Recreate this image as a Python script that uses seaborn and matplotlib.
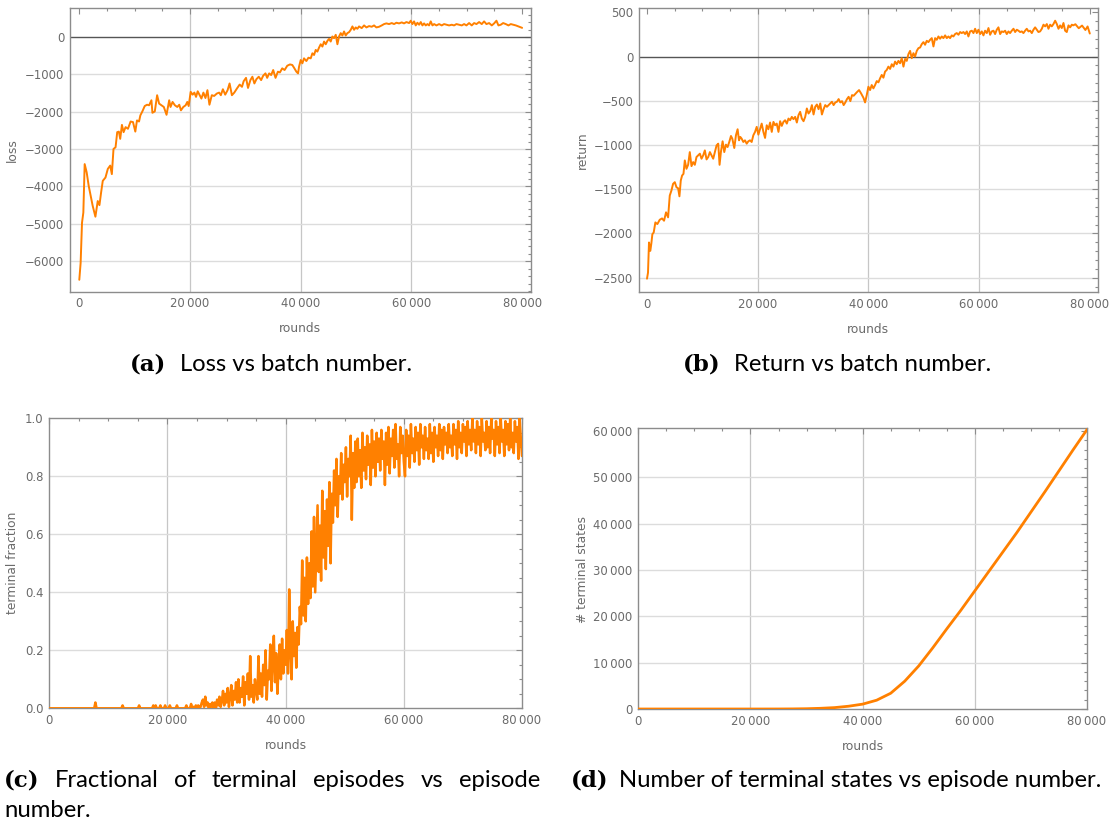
import numpy as np
import matplotlib
matplotlib.use("Agg")
import matplotlib.pyplot as plt
from matplotlib.ticker import MultipleLocator, FuncFormatter
import seaborn as sns

# ---------------- data ----------------
loss_rounds = [0, 240, 490, 730, 970, 1330, 1700, 2120, 2420, 2910, 3330, 3640, 3940, 4240, 4730,
               5150, 5580, 5880, 6180, 6550, 6850, 7150, 7390, 7700, 8000, 8360, 8790, 9270, 9700,
               10120, 10420, 10790, 11030, 11390, 11820, 12240, 12610, 13030, 13210, 13640, 14060,
               14420, 14850, 15270, 15760, 16240, 16480, 16850, 17270, 17700, 18060, 18360, 18790,
               19210, 19510, 19760, 20120, 20480, 20790, 21090, 21390, 21700, 22060, 22420, 22790,
               23150, 23510, 23940, 24360, 24850, 25270, 25570, 25940, 26360, 26790, 27150, 27570,
               28000, 28480, 28970, 29390, 29690, 30120, 30480, 30910, 31270, 31630, 32000, 32420,
               32850, 33210, 33630, 33940, 34300, 34660, 35030, 35450, 35880, 36240, 36660, 37090,
               37570, 38060, 38480, 38800, 39220, 39520, 39700, 40000, 40300, 40600, 41020, 41390,
               41810, 42110, 42410, 42710, 43010, 43310, 43610, 43920, 44220, 44520, 44820, 45120,
               45420, 45720, 46020, 46330, 46630, 46930, 47230, 47530, 47830, 48130, 48430, 48740,
               49040, 49340, 49640, 49940, 50240, 50540, 51020, 51450, 51870, 52350, 52830, 53250,
               53670, 54160, 54640, 55060, 55480, 55960, 56450, 56870, 57290, 57770, 58250, 58670,
               59100, 59580, 59880, 60180, 60480, 60780, 61080, 61390, 61690, 61990, 62290, 62590,
               62890, 63190, 63490, 63800, 64100, 64520, 65000, 65480, 65900, 66330, 66810, 67290,
               67710, 68130, 68610, 69100, 69520, 69940, 70420, 70900, 71330, 71750, 72230, 72710,
               73130, 73550, 74040, 74520, 74940, 75360, 75720, 76140, 76570, 77050, 77530, 77950,
               78370, 78860, 80000]
loss_values = [-6500, -6050, -4970, -4700, -3400, -3620, -3985, -4300, -4520, -4810, -4390, -4500,
               -4160, -3850, -3760, -3530, -3440, -3670, -2995, -2950, -2545, -2530, -2725, -2350,
               -2545, -2410, -2455, -2260, -2275, -2530, -2230, -2260, -2095, -1990, -1845, -1810,
               -1825, -1690, -2025, -1990, -1555, -1780, -1825, -1870, -2080, -1690, -1870, -1735,
               -1825, -1870, -1810, -1960, -1870, -1825, -1735, -1845, -1465, -1540, -1485, -1600,
               -1450, -1540, -1645, -1485, -1630, -1420, -1810, -1555, -1575, -1510, -1485, -1555,
               -1395, -1540, -1420, -1240, -1555, -1485, -1375, -1270, -1330, -1180, -1090, -1360,
               -1150, -1060, -1240, -1125, -1060, -1150, -1035, -970, -1090, -970, -1015, -880,
               -1090, -925, -945, -835, -880, -765, -730, -745, -820, -925, -970, -790, -612, -700,
               -567, -640, -550, -567, -432, -477, -342, -387, -280, -190, -252, -117, -190, -100,
               -45, -117, 18, -27, 63, -190, 18, 108, 45, 153, 45, 108, 135, 198, 288, 198, 261,
               225, 288, 243, 315, 261, 297, 279, 315, 261, 279, 315, 351, 369, 351, 378, 351, 387,
               369, 396, 369, 405, 378, 441, 351, 423, 315, 387, 333, 405, 315, 369, 315, 351, 315,
               423, 315, 351, 315, 351, 315, 351, 333, 315, 333, 315, 351, 333, 315, 351, 315, 378,
               315, 378, 351, 405, 351, 423, 351, 378, 315, 369, 441, 315, 333, 378, 351, 315, 351,
               333, 315, 250]

return_rounds = [0, 180, 360, 600, 790, 970, 1210, 1510, 1870, 2300, 2720, 3080, 3440, 3810, 4110,
                 4410, 4710, 5020, 5320, 5620, 5860, 6100, 6340, 6590, 6830, 7130, 7430, 7730, 8040,
                 8340, 8640, 8940, 9240, 9550, 9850, 10150, 10450, 10760, 11060, 11360, 11660, 11960,
                 12270, 12570, 12870, 13110, 13350, 13660, 13960, 14260, 14560, 14860, 15170, 15410,
                 15770, 16070, 16370, 16620, 16860, 17100, 17400, 17700, 18010, 18310, 18610, 18910,
                 19210, 19520, 19820, 20120, 20420, 20720, 21030, 21330, 21630, 21930, 22240, 22540,
                 22840, 23140, 23440, 23750, 24050, 24350, 24650, 24950, 25260, 25560, 25860, 26160,
                 26460, 26770, 27070, 27370, 27670, 27970, 28280, 28580, 28880, 29180, 29490, 29790,
                 30090, 30390, 30690, 31000, 31300, 31600, 31900, 32200, 32510, 32810, 33110, 33410,
                 33710, 34020, 34320, 34620, 34920, 35230, 35530, 35830, 36130, 36430, 36740, 37040,
                 37340, 37890, 38310, 38680, 39100, 39400, 39700, 40000, 40300, 40600, 40900, 41210,
                 41510, 41810, 42110, 42410, 42710, 43010, 43310, 43610, 43920, 44220, 44520, 44820,
                 45120, 45420, 45720, 46020, 46330, 46630, 46930, 47230, 47530, 47830, 48130, 48430,
                 48740, 49040, 49340, 49640, 49940, 50240, 50540, 50840, 51140, 51450, 51750, 52050,
                 52350, 52650, 52950, 53250, 53550, 53860, 54160, 54460, 54760, 55060, 55360, 55660,
                 55960, 56270, 56570, 56870, 57170, 57470, 57770, 58070, 58370, 58680, 58980, 59280,
                 59580, 59880, 60180, 60480, 60780, 61080, 61390, 61690, 61990, 62290, 62590, 62890,
                 63190, 63490, 63800, 64100, 64400, 64700, 65000, 65300, 65600, 65900, 66210, 66510,
                 66810, 67110, 67410, 67710, 68010, 68310, 68610, 68920, 69220, 69520, 69820, 70120,
                 70420, 70720, 71020, 71330, 71630, 71930, 72230, 72530, 72830, 73130, 73430, 73740,
                 74040, 74340, 74640, 74940, 75240, 75540, 75840, 76150, 76450, 76750, 76990, 77400,
                 78000, 78600, 79200, 79600, 80000]
return_values = [-2511, -2443, -2102, -2197, -2110, -2008, -1989, -1875, -1894, -1845, -1830, -1856,
                 -1761, -1818, -1572, -1515, -1439, -1420, -1477, -1489, -1580, -1402, -1345, -1326,
                 -1174, -1269, -1224, -1080, -1239, -1193, -1224, -1136, -1117, -1098, -1155, -1117,
                 -1061, -1163, -1136, -1080, -1117, -1155, -1080, -1004, -985, -1224, -1080, -958,
                 -1080, -996, -1023, -966, -898, -928, -1034, -890, -822, -947, -909, -928, -966,
                 -947, -985, -958, -947, -966, -890, -852, -795, -883, -822, -758, -852, -920, -777,
                 -822, -746, -852, -739, -777, -758, -852, -731, -784, -739, -720, -758, -701, -720,
                 -682, -708, -682, -746, -663, -625, -701, -731, -682, -587, -644, -617, -549, -655,
                 -568, -542, -595, -530, -655, -595, -549, -568, -549, -530, -511, -549, -519, -511,
                 -481, -519, -504, -549, -519, -481, -455, -504, -436, -443, -405, -379, -417, -466,
                 -519, -436, -341, -379, -322, -360, -322, -277, -292, -246, -208, -239, -170, -152,
                 -114, -140, -87, -114, -57, -87, -49, -76, -19, -114, -27, -49, 27, 64, -19, 38, 0,
                 64, 95, 102, 140, 163, 133, 178, 163, 189, 208, 114, 208, 189, 227, 201, 227, 208,
                 239, 208, 227, 208, 239, 227, 254, 265, 246, 277, 265, 277, 254, 284, 227, 284, 292,
                 265, 314, 265, 303, 254, 284, 239, 292, 265, 322, 246, 284, 292, 254, 303, 330, 254,
                 284, 277, 292, 254, 284, 265, 292, 314, 277, 303, 292, 277, 284, 265, 292, 314, 284,
                 292, 265, 303, 330, 303, 277, 284, 314, 360, 341, 367, 314, 360, 341, 367, 405, 367,
                 314, 352, 322, 379, 292, 277, 352, 330, 360, 352, 365, 320, 350, 300, 340, 260]

# terminal fraction, sampled every 200 rounds (0 ... 80000), one row = 4000 rounds
fraction_rounds = list(range(0, 80001, 200))
fraction_values = [
    0, 0, 0, 0, 0, 0, 0, 0, 0, 0, 0, 0, 0, 0, 0, 0, 0, 0, 0, 0,
    0, 0, 0, 0, 0, 0, 0, 0, 0, 0, 0, 0, 0, 0, 0, 0, 0, 0, 0, 0.02,
    0, 0, 0, 0, 0, 0, 0, 0, 0, 0, 0, 0, 0, 0, 0, 0, 0, 0, 0, 0,
    0, 0, 0.01, 0, 0, 0, 0, 0, 0, 0, 0, 0, 0, 0, 0, 0, 0.01, 0, 0, 0,
    0, 0, 0, 0, 0, 0, 0, 0, 0.01, 0, 0.01, 0, 0, 0, 0.01, 0, 0, 0, 0.01, 0,
    0, 0, 0.01, 0, 0, 0, 0, 0, 0.01, 0, 0, 0, 0, 0, 0, 0, 0.01, 0, 0, 0,
    0.015, 0, 0.005, 0, 0.01, 0, 0.01, 0, 0.005, 0.02, 0.03, 0.005, 0.04, 0.01, 0.02, 0, 0.015, 0.005, 0.02, 0,
    0.02, 0, 0.03, 0.01, 0.04, 0.005, 0.025, 0.06, 0.01, 0.05, 0.02, 0.07, 0.005, 0.04, 0.08, 0.01, 0.06, 0.03, 0.09, 0.02,
    0.1, 0.02, 0.07, 0.04, 0.11, 0.01, 0.09, 0.05, 0.12, 0.03, 0.18, 0.04, 0.08, 0.02, 0.1, 0.06, 0.03, 0.18, 0.05, 0.12,
    0.04, 0.15, 0.08, 0.2, 0.03, 0.13, 0.1, 0.22, 0.06, 0.16, 0.25, 0.09, 0.19, 0.05, 0.14, 0.22, 0.1, 0.24, 0.12, 0.2,
    0.15, 0.27, 0.12, 0.41, 0.2, 0.1, 0.3, 0.18, 0.26, 0.14, 0.28, 0.22, 0.35, 0.29, 0.51, 0.32, 0.45, 0.3, 0.52, 0.36,
    0.5, 0.38, 0.61, 0.42, 0.66, 0.4, 0.55, 0.7, 0.47, 0.63, 0.44, 0.75, 0.52, 0.68, 0.48, 0.72, 0.56, 0.78, 0.5, 0.74,
    0.64, 0.82, 0.7, 0.86, 0.66, 0.8, 0.74, 0.88, 0.72, 0.84, 0.78, 0.9, 0.73, 0.86, 0.8, 0.94, 0.65, 0.88, 0.76, 0.92,
    0.78, 0.93, 0.8, 0.89, 0.76, 0.95, 0.82, 0.9, 0.79, 0.94, 0.84, 0.91, 0.77, 0.96, 0.83, 0.92, 0.8, 0.95, 0.85, 0.93,
    0.82, 0.96, 0.86, 0.92, 0.77, 0.95, 0.84, 0.97, 0.81, 0.93, 0.87, 0.96, 0.83, 0.98, 0.86, 0.91, 0.8, 0.97, 0.88, 0.94,
    0.85, 0.8, 0.96, 0.87, 0.94, 0.83, 0.98, 0.88, 0.93, 0.85, 0.97, 0.89, 0.95, 0.84, 0.98, 0.9, 0.94, 0.86, 0.97, 0.89,
    0.93, 0.86, 0.98, 0.88, 0.95, 0.85, 0.97, 0.9, 0.94, 0.87, 0.98, 0.89, 0.96, 0.86, 0.97, 0.91, 0.95, 0.88, 0.98, 0.9,
    0.94, 0.87, 0.98, 0.91, 0.96, 0.86, 0.99, 0.9, 0.95, 0.88, 0.98, 0.92, 0.97, 0.87, 0.99, 0.91, 0.96, 0.89, 1.0, 0.92,
    0.96, 0.88, 0.99, 0.91, 0.97, 0.87, 1.0, 0.92, 0.95, 0.89, 0.99, 0.9, 0.97, 0.88, 1.0, 0.93, 0.96, 0.87, 0.99, 0.91,
    0.97, 0.88, 1.0, 0.92, 0.96, 0.87, 0.99, 0.91, 0.98, 0.89, 1.0, 0.9, 0.95, 0.88, 0.99, 0.92, 0.97, 0.86, 1.0, 0.93,
    0.87]

states_rounds = [0, 2500, 5000, 7500, 10000, 12500, 15000, 17500, 20000, 22500, 25000, 27500,
                 30000, 32500, 35000, 37500, 40000, 42500, 45000, 47500, 50000, 52500, 55000,
                 57500, 60000, 62500, 65000, 67500, 70000, 72500, 75000, 77500, 80000]
states_values = [0, 0, 0, 0, 0, 0, 0, 0, 0, 0, 5, 20, 60, 150, 300, 600, 1050, 1900, 3400, 6000,
                 9300, 13200, 17300, 21300, 25500, 29700, 33900, 38100, 42500, 46900, 51400,
                 55900, 60300]

captions = ["(a)", "(b)", "(c)", "(d)"]
caption_texts = ["Loss vs batch number.", "Return vs batch number.",
                 "Fractional of terminal episodes vs episode number.",
                 "Number of terminal states vs episode number."]

# ---------------- style ----------------
W, H = 1113, 823
sns.set_theme(style="white")
plt.rcParams["font.family"] = ["DejaVu Sans"]
ORANGE = "#ff8000"
GRAY_TXT = "#6a6a6a"
FRAME = "#8c8c8c"

fig = plt.figure(figsize=(W / 100, H / 100), dpi=100)


def add_ax(left, top, right, bottom):
    return fig.add_axes([left / W, 1 - bottom / H, (right - left) / W, (bottom - top) / H])


def num_fmt(v, pos):
    n = int(round(v))
    a = abs(n)
    s = f"{a:,}".replace(",", "\u2009") if a >= 10000 else str(a)
    return ("\u2212" if n < 0 else "") + s


def style_ax(ax, xminor, ymajor, yminor, fmt_y=None):
    ax.set_facecolor("white")
    for sp in ax.spines.values():
        sp.set_color(FRAME)
        sp.set_linewidth(1.0)
        sp.set_visible(True)
    ax.xaxis.set_major_locator(MultipleLocator(20000))
    ax.xaxis.set_minor_locator(MultipleLocator(xminor))
    ax.yaxis.set_major_locator(MultipleLocator(ymajor))
    ax.yaxis.set_minor_locator(MultipleLocator(yminor))
    ax.xaxis.set_major_formatter(FuncFormatter(num_fmt))
    ax.yaxis.set_major_formatter(FuncFormatter(fmt_y if fmt_y else num_fmt))
    ax.tick_params(which="both", direction="in", top=True, right=True, colors=FRAME,
                   labelcolor=GRAY_TXT, labelsize=8.4, width=0.8)
    ax.tick_params(which="major", length=4.5, pad=4)
    ax.tick_params(which="minor", length=2.5)
    ax.grid(False)


def grids(ax, xs, ys):
    for v in xs:
        ax.axvline(v, color="#c6c6c6", lw=0.9, zorder=0.5)
    for v in ys:
        ax.axhline(v, color="#dcdcdc", lw=1.0, zorder=0.5)


def labels(ax, xl, yl, xpos, ypos):
    ax.set_xlabel(xl, color=GRAY_TXT, fontsize=8.8)
    ax.set_ylabel(yl, color=GRAY_TXT, fontsize=8.8)
    ax.xaxis.set_label_coords(*xpos)
    ax.yaxis.set_label_coords(*ypos)
    ax.xaxis.label.set_va("center")
    ax.yaxis.label.set_va("center")


# (a) loss
axA = add_ax(70, 7.5, 530.7, 291.5)
sns.lineplot(x=loss_rounds, y=loss_values, ax=axA, color=ORANGE, lw=1.4, estimator=None, zorder=3)
axA.set_xlim(-1680, 81550)
axA.set_ylim(-6814, 795)
style_ax(axA, 5000, 1000, 200)
grids(axA, [20000, 40000, 60000], [-6000, -5000, -4000, -3000, -2000, -1000])
axA.axhline(0, color="#555555", lw=1.0, zorder=1)
labels(axA, "rounds", "loss", (0.5, -0.132), (-0.124, 0.498))

# (b) return
axB = add_ax(638.7, 7.7, 1098, 292.3)
sns.lineplot(x=return_rounds, y=return_values, ax=axB, color=ORANGE, lw=1.4, estimator=None, zorder=3)
axB.set_xlim(-1500, 81480)
axB.set_ylim(-2665, 552)
style_ax(axB, 5000, 500, 100)
grids(axB, [20000, 40000, 60000], [-2500, -2000, -1500, -1000, -500])
axB.axhline(0, color="#555555", lw=1.0, zorder=1)
labels(axB, "rounds", "return", (0.5, -0.13), (-0.123, 0.5))

# (c) terminal fraction
axC = add_ax(49.3, 418.3, 522, 708.3)
sns.lineplot(x=fraction_rounds, y=fraction_values, ax=axC, color=ORANGE, lw=1.8, estimator=None, zorder=3)
axC.set_xlim(0, 80000)
axC.set_ylim(0, 1.0)
style_ax(axC, 5000, 0.2, 0.05, fmt_y=lambda v, p: f"{v:.1f}")
grids(axC, [20000, 40000, 60000], [0.2, 0.4, 0.6, 0.8])
labels(axC, "rounds", "terminal fraction", (0.5, -0.13), (-0.077, 0.5))

# (d) terminal states
axD = add_ax(638.3, 428, 1087, 709)
sns.lineplot(x=states_rounds, y=states_values, ax=axD, color=ORANGE, lw=2.0, estimator=None, zorder=3)
axD.set_xlim(0, 80000)
axD.set_ylim(0, 60650)
style_ax(axD, 5000, 10000, 2000)
grids(axD, [20000, 40000, 60000], [10000, 20000, 30000, 40000, 50000])
labels(axD, "rounds", "# terminal states", (0.5, -0.132), (-0.125, 0.495))

# ---------------- captions ----------------
CAP_FS = 17.2
SERIF = ["DejaVu Serif"]
SANS = ["Lato", "DejaVu Sans"]
renderer = fig.canvas.get_renderer()


def cap(x, y, s, bold=False):
    return fig.text(x / W, 1 - y / H, s, ha="left", va="baseline",
                    fontsize=16.5 if bold else CAP_FS,
                    family=SERIF if bold else SANS, fontweight="bold" if bold else "normal",
                    color="black")


def width(t):
    return t.get_window_extent(renderer).width


def centered(cx, y, tag, text, gap=13):
    t1 = cap(0, y, tag, bold=True)
    t2 = cap(0, y, text)
    w1, w2 = width(t1), width(t2)
    x0 = cx - (w1 + gap + w2) / 2
    t1.set_x(x0 / W)
    t2.set_x((x0 + w1 + gap) / W)


def justified(x0, x1, y, tag, words):
    items = [cap(0, y, tag, bold=True)] + [cap(0, y, w) for w in words]
    ws = [width(t) for t in items]
    gap = (x1 - x0 - sum(ws)) / (len(items) - 1)
    x = x0
    for t, w in zip(items, ws):
        t.set_x(x / W)
        x += w + gap


centered(271, 370.7, captions[0], caption_texts[0])
centered(837, 370.7, captions[1], caption_texts[1])
c_words = caption_texts[2].split(" ")
justified(3.5, 540, 787, captions[2], c_words[:-1])
cap(4, 817, c_words[-1])
t_d1 = cap(570.5, 787, captions[3], bold=True)
cap(570.5 + width(t_d1) + 11, 787, caption_texts[3])

fig.savefig("out.png", dpi=100, facecolor="white")
